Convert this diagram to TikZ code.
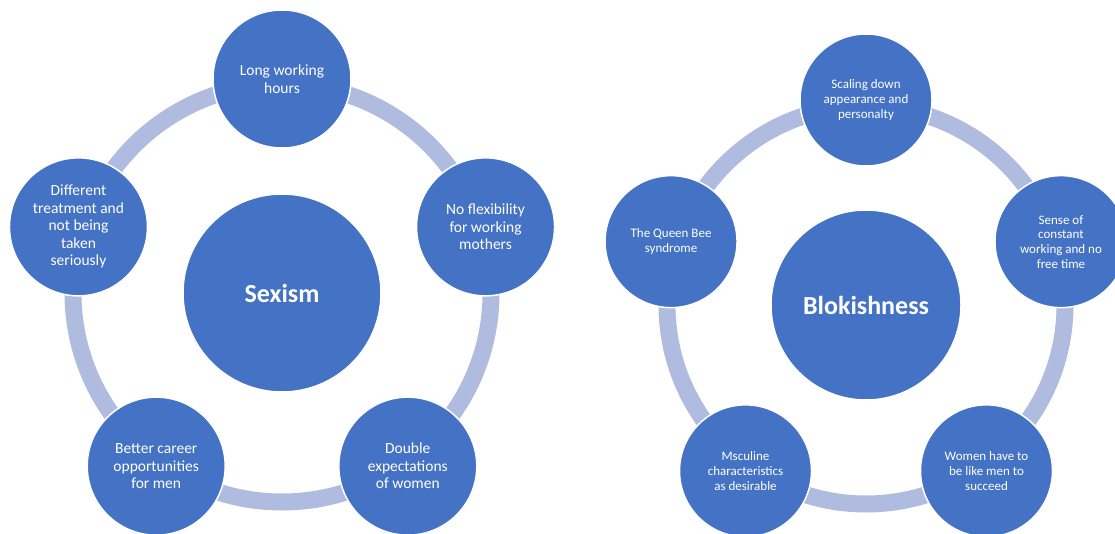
\documentclass[tikz,border=0pt]{standalone}
\usepackage{fontspec}
\setmainfont{Carlito}
\definecolor{discblue}{HTML}{4472C4}
\definecolor{bandblue}{HTML}{B0BCDF}

\begin{document}
\begin{tikzpicture}[x=1pt,y=1pt,
		band/.style={draw=bandblue,line width=17pt},
		hub/.style={circle,fill=discblue,draw=white,line width=1.5pt,text=white,inner sep=0pt,minimum size=198pt,font=\fontsize{26}{30}\selectfont\bfseries},
		spoke/.style={circle,fill=discblue,draw=white,line width=1.5pt,text=white,inner sep=0pt,align=center,minimum size=138pt,font=\fontsize{15.5}{17.5}\selectfont},
		smallspoke/.style={spoke,minimum size=132pt,font=\fontsize{13}{14.7}\selectfont}]
	\useasboundingbox (0,0) rectangle (1115,533);
	% sexism cycle
	\coordinate (sexc) at (282,240);
	\draw[band] (sexc) circle[radius=209];
	\node[hub] (sexism) at (sexc) {Sexism};
	\path (sexc) ++(90:214) node[spoke] (hours) {Long working\\hours};
	\path (sexc) ++(18:214) node[spoke] (flex) {No flexibility\\for working\\mothers};
	\path (sexc) ++(-54:214) node[spoke] (double) {Double\\expectations\\of women};
	\path (sexc) ++(-126:214) node[spoke] (career) {Better career\\opportunities\\for men};
	\path (sexc) ++(162:214) node[spoke] (treat) {Different\\treatment and\\not being\\taken\\seriously};
	% blokishness cycle
	\coordinate (blokc) at (866,228);
	\draw[band] (blokc) circle[radius=199];
	\node[hub,minimum size=190pt] (blokish) at (blokc) {Blokishness};
	\path (blokc) ++(90:205) node[smallspoke] (scaling) {Scaling down\\appearance and\\personalty};
	\path (blokc) ++(18:205) node[smallspoke] (sense) {Sense of\\constant\\working and no\\free time};
	\path (blokc) ++(-54:205) node[smallspoke] (women) {Women have to\\be like men to\\succeed};
	\path (blokc) ++(-126:205) node[smallspoke] (masc) {Msculine\\characteristics\\as desirable};
	\path (blokc) ++(162:205) node[smallspoke] (queen) {The Queen Bee\\syndrome};
\end{tikzpicture}
\end{document}
